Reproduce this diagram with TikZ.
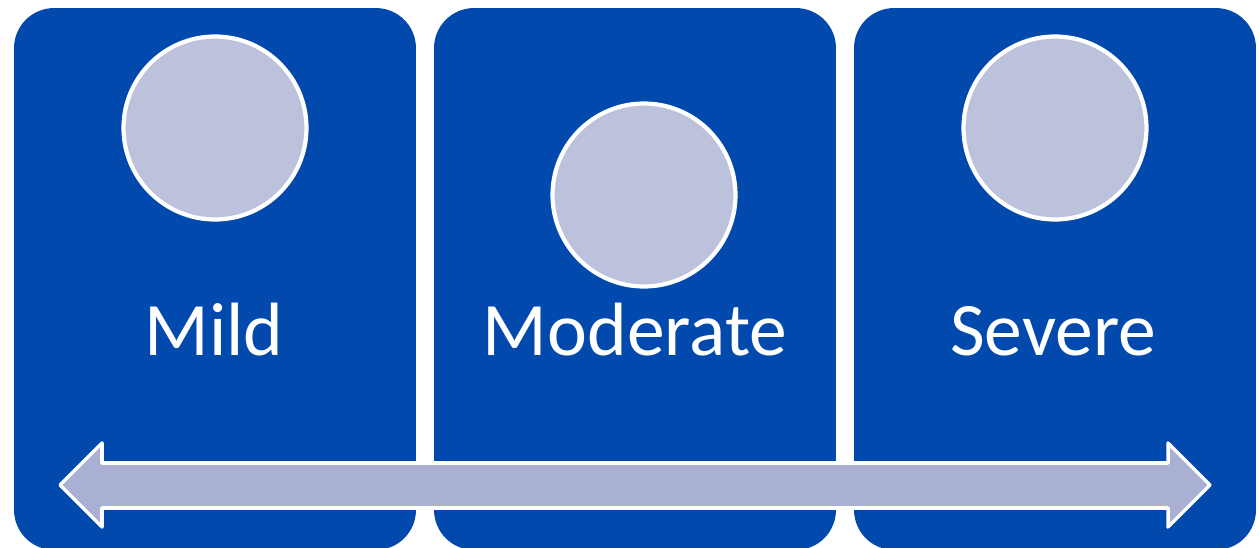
\documentclass[tikz,border=0pt]{standalone}
\usepackage{fontspec}
\setmainfont{Carlito}
\usepackage{xcolor}
\definecolor{boxblue}{HTML}{0249AD}
\definecolor{dotfill}{HTML}{BCC1DC}
\definecolor{arrowfill}{HTML}{AAB0D4}

\tikzset{
    stage/.style={rectangle, fill=boxblue, rounded corners=0.8cm,
        minimum width=8.04cm, minimum height=10.84cm, inner sep=0pt},
    dot/.style={circle, fill=dotfill, draw=white, line width=2.4pt,
        minimum size=3.66cm, inner sep=0pt},
    label/.style={text=white, font=\fontsize{43}{50}\selectfont, anchor=base}
}

\begin{document}
\begin{tikzpicture}[x=0.02cm, y=-0.02cm]
    % Define the canvas
    \useasboundingbox (0,0) rectangle (1259,548);
    \clip (0,0) rectangle (1259,548);

    % Stage boxes
    \node[stage] (mildbox) at (215,279) {};
    \node[stage] (modbox) at (635,279) {};
    \node[stage] (sevbox) at (1055,279) {};

    % Circles
    \node[dot] (milddot) at (215,128) {};
    \node[dot] (moddot) at (644,195) {};
    \node[dot] (sevdot) at (1055,128) {};

    % Labels
    \node[label] (mild) at (214,355) {Mild};
    \node[label] (mod) at (635,355) {Moderate};
    \node[label] (sev) at (1053,355) {Severe};

    % Double arrow
    \draw[fill=arrowfill, draw=white, line width=2pt, line join=round]
        (60,485) -- (102,443) -- (102,463) -- (1168,463) -- (1168,443)
        -- (1210,485) -- (1168,527) -- (1168,508) -- (102,508)
        -- (102,527) -- cycle;

\end{tikzpicture}
\end{document}
